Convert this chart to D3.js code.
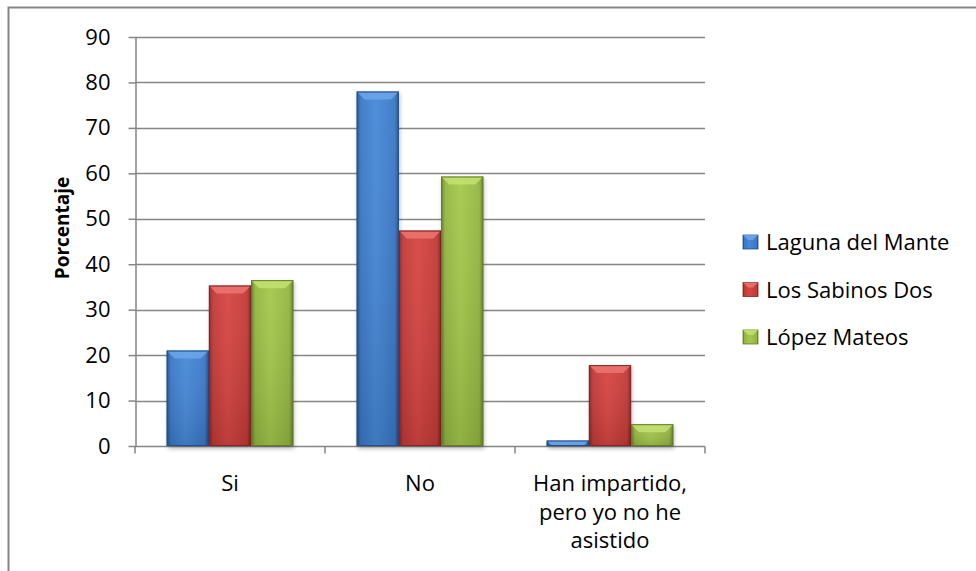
<html>
<head>
<script src="https://d3js.org/d3.v7.min.js"></script>
<style>
  body { margin: 0; background: #fff; }
  text { font-family: "Open Sans", sans-serif; fill: #000; }
</style>
</head>
<body>
<svg id="chart" width="976" height="571"></svg>
<script>
// data
const categories = ["Si", "No", "Han impartido, pero yo no he asistido"];
const categoryLines = [["Si"], ["No"], ["Han impartido,", "pero yo no he", "asistido"]];
const seriesNames = ["Laguna del Mante", "Los Sabinos Dos", "López Mateos"];
const lagunaValues = [21, 78, 1.2];
const sabinosValues = [35.3, 47.4, 17.8];
const lopezValues = [36.5, 59.3, 4.8];
const yTicks = [0, 10, 20, 30, 40, 50, 60, 70, 80, 90];

const seriesValues = [lagunaValues, sabinosValues, lopezValues];
const palette = [
  { light: "#4689d8", mid: "#3b78c6", dark: "#234f8a", top: "#6fa6ea" },
  { light: "#d74542", mid: "#c23a37", dark: "#842624", top: "#ec7572" },
  { light: "#a5c84c", mid: "#94b641", dark: "#627e27", top: "#c4e073" }
];

const svg = d3.select("#chart");
const plot = { left: 135, right: 705, top: 37, bottom: 446 };

// chart frame (runs off the right and bottom edges)
svg.append("rect")
  .attr("x", 8.5).attr("y", 7.5)
  .attr("width", 1000).attr("height", 600)
  .attr("fill", "none").attr("stroke", "#868686").attr("stroke-width", 2);

const defs = svg.append("defs");
palette.forEach((c, i) => {
  const g = defs.append("linearGradient").attr("id", "bar" + i)
    .attr("x1", 0).attr("x2", 1).attr("y1", 0).attr("y2", 0);
  g.append("stop").attr("offset", "0%").attr("stop-color", c.dark);
  g.append("stop").attr("offset", "10%").attr("stop-color", c.mid);
  g.append("stop").attr("offset", "45%").attr("stop-color", c.light);
  g.append("stop").attr("offset", "90%").attr("stop-color", c.mid);
  g.append("stop").attr("offset", "100%").attr("stop-color", c.dark);
  const v = defs.append("linearGradient").attr("id", "shade" + i)
    .attr("x1", 0).attr("x2", 0).attr("y1", 0).attr("y2", 1);
  v.append("stop").attr("offset", "0%").attr("stop-color", "#fff").attr("stop-opacity", 0.05);
  v.append("stop").attr("offset", "100%").attr("stop-color", "#000").attr("stop-opacity", 0.12);
});
const blur = defs.append("filter").attr("id", "shadow")
  .attr("x", "-20%").attr("y", "-20%").attr("width", "140%").attr("height", "140%");
blur.append("feGaussianBlur").attr("stdDeviation", 2);

const y = d3.scaleLinear().domain([0, 90]).range([plot.bottom, plot.top]);
const x0 = d3.scaleBand().domain(categories).range([plot.left, plot.right]).paddingInner(0).paddingOuter(0);
const x1 = d3.scaleBand().domain(seriesNames).range([0, x0.bandwidth()]).paddingInner(0).paddingOuter(0.75);

// gridlines
svg.append("g").selectAll("line").data(yTicks.slice(1))
  .join("line")
  .attr("x1", plot.left).attr("x2", plot.right)
  .attr("y1", d => Math.round(y(d)) + 0.5).attr("y2", d => Math.round(y(d)) + 0.5)
  .attr("stroke", "#868686").attr("stroke-width", 1.5);

// y axis
const yAxis = svg.append("g")
  .attr("transform", `translate(${plot.left + 0.5},0)`)
  .call(d3.axisLeft(y).tickValues(yTicks).tickSize(7).tickSizeOuter(0).tickPadding(18));
yAxis.select(".domain").attr("stroke", "#868686").attr("stroke-width", 1.5);
yAxis.selectAll(".tick line").attr("stroke", "#868686").attr("stroke-width", 1.5);
yAxis.selectAll(".tick text").style("font-size", "22px").style("font-family", "Open Sans, sans-serif").attr("fill", "#000");

// x axis
const xAxis = svg.append("g")
  .attr("transform", `translate(0,${plot.bottom + 0.5})`);
xAxis.append("line")
  .attr("x1", plot.left).attr("x2", plot.right)
  .attr("stroke", "#868686").attr("stroke-width", 1.5);
xAxis.selectAll("line.tick").data(d3.range(categories.length + 1))
  .join("line").attr("class", "tick")
  .attr("x1", i => plot.left + i * x0.bandwidth()).attr("x2", i => plot.left + i * x0.bandwidth())
  .attr("y1", 0).attr("y2", 7)
  .attr("stroke", "#868686").attr("stroke-width", 1.5);

const labels = svg.append("g").selectAll("text").data(categories)
  .join("text")
  .attr("text-anchor", "middle")
  .style("font-size", "22px")
  .attr("transform", d => `translate(${x0(d) + x0.bandwidth() / 2},491)`);
labels.each(function (d, i) {
  d3.select(this).selectAll("tspan").data(categoryLines[i])
    .join("tspan").attr("x", 0).attr("y", (t, j) => j * 28.5).text(t => t);
});

// bars
const bevel = 8;
seriesNames.forEach((name, s) => {
  const g = svg.append("g");
  const data = categories.map((c, k) => ({ c, v: seriesValues[s][k] }));
  const bx = d => x0(d.c) + x1(name);
  const w = x1.bandwidth();
  // soft shadow
  g.selectAll("rect.shadow").data(data).join("rect").attr("class", "shadow")
    .attr("x", d => bx(d) + 1).attr("y", d => y(d.v) + 2)
    .attr("width", w).attr("height", d => plot.bottom - y(d.v) + 1)
    .attr("fill", "#000").attr("opacity", 0.25).attr("filter", "url(#shadow)");
  g.selectAll("rect.bar").data(data).join("rect").attr("class", "bar")
    .attr("x", bx).attr("y", d => y(d.v))
    .attr("width", w).attr("height", d => plot.bottom - y(d.v))
    .attr("fill", `url(#bar${s})`);
  g.selectAll("rect.shade").data(data).join("rect").attr("class", "shade")
    .attr("x", bx).attr("y", d => y(d.v))
    .attr("width", w).attr("height", d => plot.bottom - y(d.v))
    .attr("fill", `url(#shade${s})`);
  // top bevel
  g.selectAll("path.bevel").data(data).join("path").attr("class", "bevel")
    .attr("d", d => {
      const x = bx(d), t = y(d.v), h = Math.min(bevel, plot.bottom - t);
      return `M${x},${t}L${x + w},${t}L${x + w - h},${t + h}L${x + h},${t + h}Z`;
    })
    .attr("fill", palette[s].top).attr("opacity", 0.85);
  g.selectAll("rect.edge").data(data).join("rect").attr("class", "edge")
    .attr("x", d => bx(d) + 0.5).attr("y", d => y(d.v) + 0.5)
    .attr("width", w - 1).attr("height", d => Math.max(0, plot.bottom - y(d.v) - 1))
    .attr("fill", "none").attr("stroke", palette[s].dark).attr("stroke-width", 1);
});

// y axis title
svg.append("text")
  .attr("transform", "translate(69,228) rotate(-90)")
  .attr("text-anchor", "middle")
  .style("font-size", "19px").style("font-weight", "bold")
  .text("Porcentaje");

// legend
const legend = svg.append("g").selectAll("g").data(seriesNames)
  .join("g")
  .attr("transform", (d, i) => `translate(743,${242 + i * 47.5})`);
legend.append("rect")
  .attr("x", 0).attr("y", -7).attr("width", 15).attr("height", 14)
  .attr("fill", (d, i) => `url(#bar${i})`)
  .attr("stroke", (d, i) => palette[i].dark).attr("stroke-width", 0.8);
legend.append("path")
  .attr("d", "M0,-7L15,-7L10,-2L5,-2Z")
  .attr("fill", (d, i) => palette[i].top).attr("opacity", 0.85);
legend.append("text")
  .attr("x", 23).attr("y", 8)
  .style("font-size", "22px")
  .text(d => d);
</script>
</body>
</html>
